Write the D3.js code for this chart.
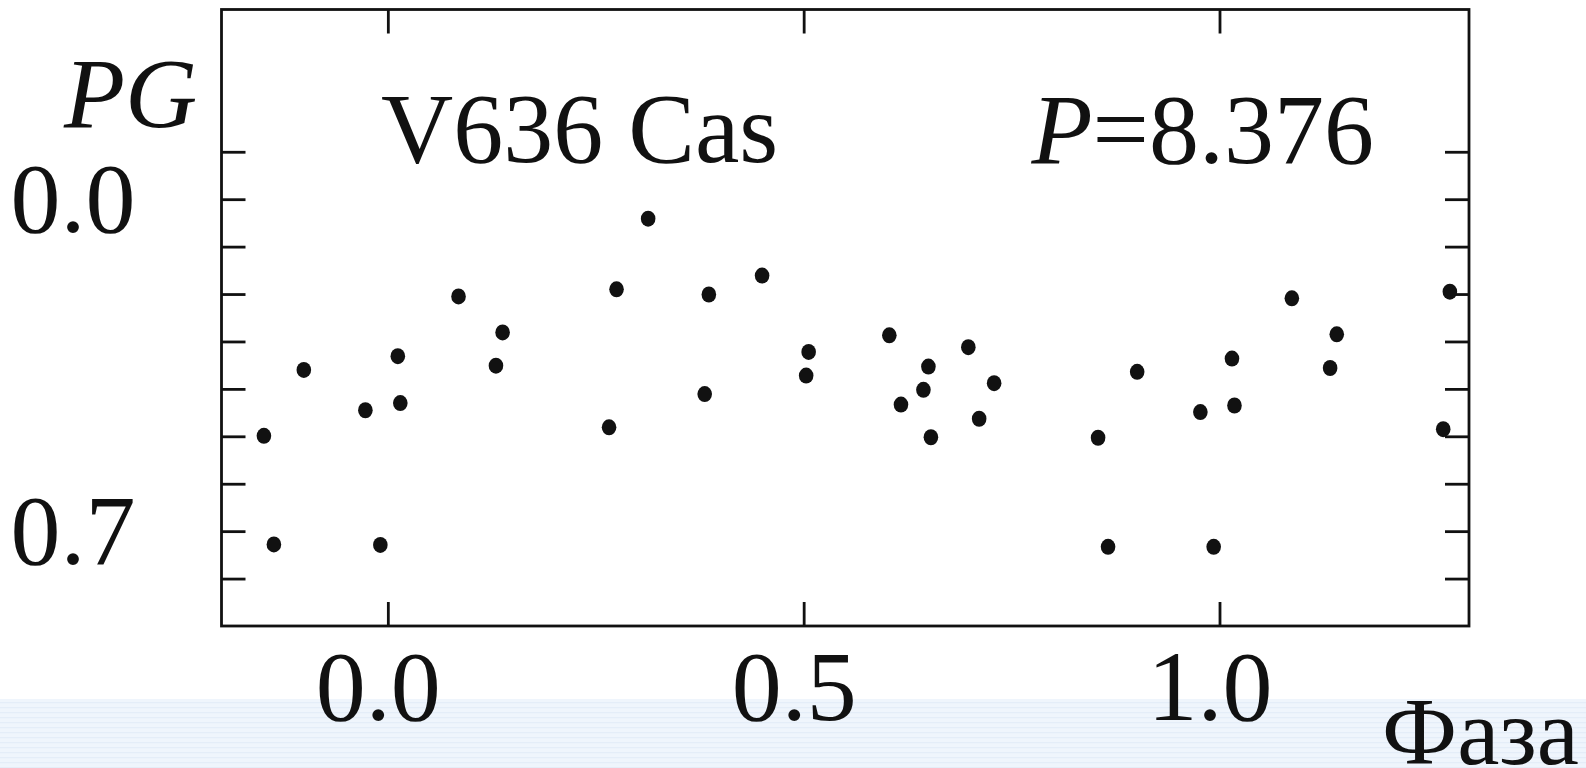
<!DOCTYPE html>
<html>
<head>
<meta charset="utf-8">
<script src="https://cdn.jsdelivr.net/npm/d3@7"></script>
<style>
  html, body { margin: 0; padding: 0; background: #fff; overflow: hidden; }
  svg { display: block; }
  text { font-family: "Liberation Serif", "Times New Roman", Times, serif; fill: #111; }
</style>
</head>
<body>
<svg id="svg-main"></svg>
<script>
const WIDTH = 1586;
const HEIGHT = 768;

// phase / PG magnitude pairs
const phases = [
    -0.149, -0.137, -0.101, -0.027, -0.009, 0.012, 0.015, 0.085, 0.138, 0.130,
    0.275, 0.266, 0.313, 0.386, 0.450, 0.381, 0.506, 0.503, 0.603, 0.650,
    0.698, 0.644, 0.617, 0.729, 0.711, 0.653, 0.854, 0.866, 0.901, 0.977,
    0.993, 1.015, 1.018, 1.087, 1.141, 1.133, 1.277, 1.269
];
const magnitudes = [
    0.499, 0.728, 0.360, 0.445, 0.729, 0.331, 0.430, 0.205, 0.281, 0.351,
    0.190, 0.481, 0.041, 0.201, 0.161, 0.411, 0.322, 0.372, 0.287, 0.353,
    0.312, 0.402, 0.433, 0.388, 0.463, 0.502, 0.503, 0.733, 0.364, 0.449,
    0.733, 0.336, 0.435, 0.209, 0.285, 0.356, 0.195, 0.485
];

const xDomain = [-0.2, 1.3];
const yDomain = [-0.4, 0.9];
const xTickValues = [0.0, 0.5, 1.0];
const yTickValues = [-0.1, 0.0, 0.1, 0.2, 0.3, 0.4, 0.5, 0.6, 0.7, 0.8];
const yLabelValues = [0.0, 0.7];

const starName = "V636 Cas";
const periodValue = "=8.376";
const xTitle = "Фаза";
const yTitle = "PG";

var Dims = {
    Frame: { Left: 221.5, Right: 1469, Top: 9.5, Bottom: 626 },
    TickLen: 24,
    FontSize: 100
};

var svg = d3.select("#svg-main")
    .attr("width", WIDTH)
    .attr("height", HEIGHT);

var x = d3.scaleLinear().domain(xDomain).range([Dims.Frame.Left, Dims.Frame.Right]);
var y = d3.scaleLinear().domain(yDomain).range([Dims.Frame.Top, Dims.Frame.Bottom]);

drawBackgroundBand();
drawFrame();
drawLabels();
drawPoints();

function drawBackgroundBand() {
    var defs = svg.append("defs");
    var pat = defs.append("pattern")
        .attr("id", "band-stripes")
        .attr("patternUnits", "userSpaceOnUse")
        .attr("width", 8)
        .attr("height", 5);
    pat.append("rect").attr("width", 8).attr("height", 5).attr("fill", "#eff5fc");
    pat.append("rect").attr("y", 2).attr("width", 8).attr("height", 1.2).attr("fill", "#e4edf8");

    svg.append("rect")
        .attr("x", 0)
        .attr("y", 699)
        .attr("width", WIDTH)
        .attr("height", HEIGHT - 699)
        .attr("fill", "url(#band-stripes)");
}

function styleTicks(g) {
    g.select(".domain").remove();
    g.selectAll(".tick line")
        .attr("stroke", "#111")
        .attr("stroke-width", 2.8);
}

function drawFrame() {
    var fr = Dims.Frame;

    svg.append("g")
        .attr("transform", `translate(0,${fr.Bottom})`)
        .call(d3.axisBottom(x).tickValues(xTickValues).tickSize(-Dims.TickLen).tickFormat(""))
        .call(styleTicks);

    svg.append("g")
        .attr("transform", `translate(0,${fr.Top})`)
        .call(d3.axisTop(x).tickValues(xTickValues).tickSize(-Dims.TickLen).tickFormat(""))
        .call(styleTicks);

    svg.append("g")
        .attr("transform", `translate(${fr.Left},0)`)
        .call(d3.axisLeft(y).tickValues(yTickValues).tickSize(-Dims.TickLen).tickFormat(""))
        .call(styleTicks);

    svg.append("g")
        .attr("transform", `translate(${fr.Right},0)`)
        .call(d3.axisRight(y).tickValues(yTickValues).tickSize(-Dims.TickLen).tickFormat(""))
        .call(styleTicks);

    svg.append("rect")
        .attr("x", fr.Left)
        .attr("y", fr.Top)
        .attr("width", fr.Right - fr.Left)
        .attr("height", fr.Bottom - fr.Top)
        .attr("fill", "none")
        .attr("stroke", "#111")
        .attr("stroke-width", 2.8);
}

function styleLabels(g) {
    g.select(".domain").remove();
    g.selectAll(".tick line").remove();
    g.attr("font-family", null).attr("font-size", null);
    g.selectAll(".tick text")
        .attr("fill", "#111")
        .style("font-family", "'Liberation Serif', 'Times New Roman', Times, serif")
        .style("font-size", Dims.FontSize + "px");
}

function drawLabels() {
    var fr = Dims.Frame;
    var fmt = d3.format(".1f");

    // x labels sit a little left of their ticks in the original
    svg.append("g")
        .attr("transform", `translate(-10,${fr.Bottom})`)
        .call(d3.axisBottom(x).tickValues(xTickValues).tickSize(0).tickPadding(23).tickFormat(fmt))
        .call(styleLabels);

    svg.append("g")
        .attr("transform", `translate(${fr.Left},0)`)
        .call(d3.axisLeft(y).tickValues(yLabelValues).tickSize(0).tickPadding(86).tickFormat(fmt))
        .call(styleLabels);

    svg.append("text")
        .attr("x", 64)
        .attr("y", 127)
        .attr("font-size", Dims.FontSize)
        .attr("font-style", "italic")
        .text(yTitle);

    svg.append("text")
        .attr("x", 381)
        .attr("y", 162)
        .attr("font-size", Dims.FontSize)
        .text(starName);

    var pt = svg.append("text")
        .attr("x", 1374)
        .attr("y", 163)
        .attr("text-anchor", "end")
        .attr("font-size", Dims.FontSize);
    pt.append("tspan").attr("font-style", "italic").text("P");
    pt.append("tspan").text(periodValue);

    svg.append("text")
        .attr("x", 1579)
        .attr("y", 764)
        .attr("text-anchor", "end")
        .attr("font-size", 95)
        .text(xTitle);
}

function drawPoints() {
    var pts = phases.map(function (p, i) {
        return { phase: p, mag: magnitudes[i] };
    });

    svg.append("g")
        .attr("class", "points")
        .selectAll("ellipse")
        .data(pts)
        .enter()
        .append("ellipse")
        .attr("cx", function (d) { return x(d.phase); })
        .attr("cy", function (d) { return y(d.mag); })
        .attr("rx", 7.3)
        .attr("ry", 8)
        .attr("fill", "#111");
}
</script>
</body>
</html>
